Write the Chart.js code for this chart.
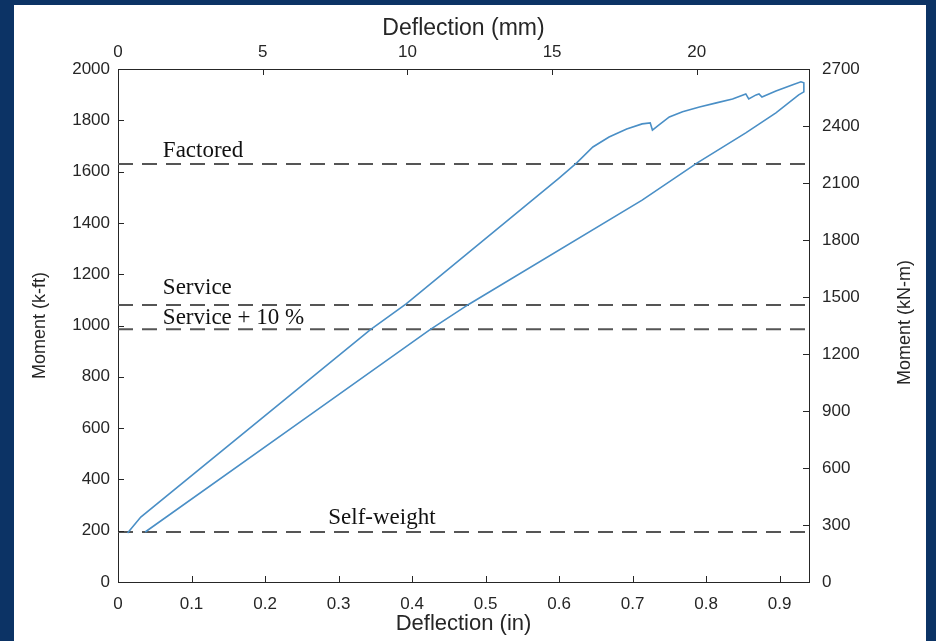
<!DOCTYPE html>
<html>
<head>
<meta charset="utf-8">
<script src="https://cdn.jsdelivr.net/npm/chart.js"></script>
<style>
  html, body { margin: 0; padding: 0; }
  body { width: 936px; height: 641px; background: #0c3365; position: relative; overflow: hidden; }
  #panel { position: absolute; left: 14px; top: 5px; width: 912px; height: 636px; background: #fff; }
  #chart { position: absolute; left: 0; top: 0; }
</style>
</head>
<body>
<div id="panel"></div>
<canvas id="chart" width="936" height="641"></canvas>
<script>
// measured moment-deflection loop (deflection in inches, moment in k-ft)
const loadDefl = [0.013, 0.031, 0.343, 0.392, 0.600, 0.624, 0.646, 0.668, 0.692, 0.713, 0.724, 0.727, 0.736, 0.750,
  0.768, 0.791, 0.814, 0.836, 0.854, 0.858, 0.868, 0.872, 0.876, 0.895, 0.917, 0.929, 0.933, 0.933];
const loadMoment = [191, 253, 983, 1084, 1575, 1634, 1696, 1735, 1766, 1786, 1790, 1762, 1782, 1813,
  1833, 1852, 1868, 1883, 1903, 1883, 1899, 1903, 1891, 1914, 1938, 1950, 1946, 1911];
const unloadDefl = [0.926, 0.895, 0.854, 0.788, 0.713, 0.478, 0.424, 0.258, 0.037];
const unloadMoment = [1899, 1829, 1751, 1634, 1489, 1084, 983, 645, 195];

// reference moment levels (k-ft)
const levelNames = ['Factored', 'Service', 'Service + 10 %', 'Self-weight'];
const levelMoments = [1630, 1080, 985, 195];

// axis ranges / ticks
const inMax = 0.94;
const mmMax = inMax * 25.4;
const kftMax = 2000, kftStep = 200;
const knmMax = 2700, knmStep = 300;

const loopPts = loadDefl.map((x, i) => ({ x, y: loadMoment[i] }))
  .concat(unloadDefl.map((x, i) => ({ x, y: unloadMoment[i] })));

const levelSets = levelMoments.map((m, i) => ({
  label: levelNames[i],
  data: [{ x: 0, y: m }, { x: inMax, y: m }],
  borderColor: '#555',
  borderWidth: 2,
  borderDash: [15, 9],
  pointRadius: 0
}));

// where the level captions sit: x in inches, lift in px above the line
const captionPlace = [
  { x: 0.061, lift: 13 },
  { x: 0.061, lift: 17 },
  { x: 0.061, lift: 11 },
  { x: 0.286, lift: 14 }
];

const sans = "'Liberation Sans', Arial, sans-serif";
const tickFont = { family: sans, size: 17 };
const ink = '#262626';

const frameTicks = {
  id: 'frameTicks',
  afterDraw(chart) {
    const ctx = chart.ctx;
    const a = chart.chartArea;
    const len = 6;
    ctx.save();
    ctx.strokeStyle = ink;
    ctx.lineWidth = 1;
    ctx.beginPath();
    chart.scales.x.ticks.forEach(t => {
      const p = Math.round(chart.scales.x.getPixelForValue(t.value)) + 0.5;
      ctx.moveTo(p, a.bottom); ctx.lineTo(p, a.bottom - len);
    });
    chart.scales.x2.ticks.forEach(t => {
      const p = Math.round(chart.scales.x2.getPixelForValue(t.value)) + 0.5;
      ctx.moveTo(p, a.top); ctx.lineTo(p, a.top + len);
    });
    chart.scales.y.ticks.forEach(t => {
      const p = Math.round(chart.scales.y.getPixelForValue(t.value)) + 0.5;
      ctx.moveTo(a.left, p); ctx.lineTo(a.left + len, p);
    });
    chart.scales.y2.ticks.forEach(t => {
      const p = Math.round(chart.scales.y2.getPixelForValue(t.value)) + 0.5;
      ctx.moveTo(a.right, p); ctx.lineTo(a.right - len, p);
    });
    ctx.stroke();

    // captions over the dashed levels
    ctx.fillStyle = '#111';
    ctx.font = "23px 'Liberation Serif', 'Times New Roman', serif";
    ctx.textBaseline = 'middle';
    ctx.textAlign = 'left';
    levelNames.forEach((name, i) => {
      const px = chart.scales.x.getPixelForValue(captionPlace[i].x);
      const py = chart.scales.y.getPixelForValue(levelMoments[i]) - captionPlace[i].lift;
      ctx.fillText(name, px, py);
    });

    // right axis title reads bottom-to-top like the left one
    ctx.fillStyle = ink;
    ctx.font = "18px " + sans;
    ctx.textAlign = 'center';
    ctx.translate(905, (a.top + a.bottom) / 2 - 3);
    ctx.rotate(-Math.PI / 2);
    ctx.fillText('Moment (kN-m)', 0, 0);
    ctx.restore();
  }
};

new Chart(document.getElementById('chart').getContext('2d'), {
  type: 'line',
  data: {
    datasets: [{
      label: 'Moment',
      data: loopPts,
      borderColor: '#4a8fc6',
      borderWidth: 1.6,
      pointRadius: 0,
      tension: 0
    }].concat(levelSets)
  },
  options: {
    responsive: false,
    animation: false,
    layout: { padding: 0 },
    plugins: { legend: { display: false }, tooltip: { enabled: false } },
    scales: {
      x: {
        type: 'linear', position: 'bottom', min: 0, max: inMax,
        afterFit: s => { s.height = 59; },
        grid: { display: false, drawTicks: false },
        border: { display: true, color: ink, width: 1 },
        ticks: { stepSize: 0.1, includeBounds: false, padding: 12, color: ink, font: tickFont,
          maxRotation: 0, autoSkip: false,
          callback: v => v === 0 ? '0' : Number(v).toFixed(1) },
        title: { display: true, text: 'Deflection (in)', color: ink,
          font: { family: sans, size: 22 }, padding: { top: 0, bottom: 4 } }
      },
      x2: {
        type: 'linear', position: 'top', min: 0, max: mmMax,
        afterFit: s => { s.height = 69; },
        grid: { display: false, drawTicks: false },
        border: { display: true, color: ink, width: 1 },
        ticks: { stepSize: 5, includeBounds: false, padding: 6, color: ink, font: tickFont,
          maxRotation: 0, autoSkip: false, callback: v => String(v) },
        title: { display: true, text: 'Deflection (mm)', color: ink,
          font: { family: sans, size: 23 }, padding: { top: 15, bottom: 0 } }
      },
      y: {
        type: 'linear', position: 'left', min: 0, max: kftMax,
        afterFit: s => { s.width = 118; },
        grid: { display: false, drawTicks: false },
        border: { display: true, color: ink, width: 1 },
        ticks: { stepSize: kftStep, padding: 8, color: ink, font: tickFont, callback: v => String(v) },
        title: { display: true, text: 'Moment (k-ft)', color: ink,
          font: { family: sans, size: 18 }, padding: { top: 29, bottom: 0 } }
      },
      y2: {
        type: 'linear', position: 'right', min: 0, max: knmMax,
        afterFit: s => { s.width = 127; },
        grid: { display: false, drawTicks: false },
        border: { display: true, color: ink, width: 1 },
        ticks: { stepSize: knmStep, padding: 13, color: ink, font: tickFont, callback: v => String(v) },
        title: { display: false }
      }
    }
  },
  plugins: [frameTicks]
});
</script>
</body>
</html>
